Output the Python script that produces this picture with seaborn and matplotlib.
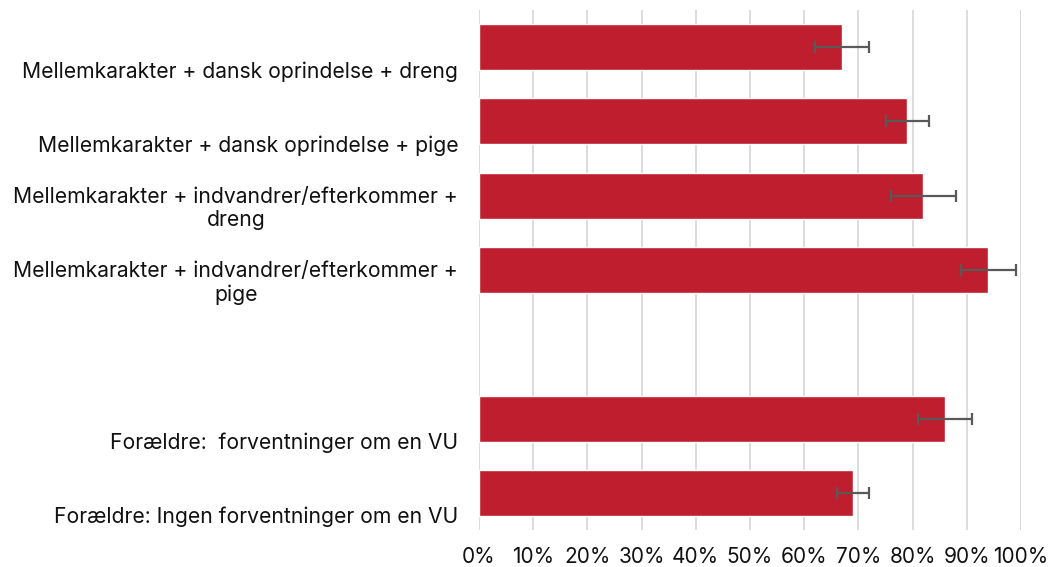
import matplotlib
matplotlib.use('Agg')
import matplotlib.pyplot as plt
import matplotlib.transforms as mtransforms
from matplotlib.ticker import PercentFormatter
import seaborn as sns
import pandas as pd

# data
labels = ['Mellemkarakter + dansk oprindelse + dreng',
          'Mellemkarakter + dansk oprindelse + pige',
          'Mellemkarakter + indvandrer/efterkommer +\ndreng',
          'Mellemkarakter + indvandrer/efterkommer +\npige',
          'Forældre:  forventninger om en VU',
          'Forældre: Ingen forventninger om en VU']
values = [0.67, 0.79, 0.82, 0.94, 0.86, 0.69]
errors = [0.05, 0.04, 0.06, 0.05, 0.05, 0.03]
# empty slot between the two groups
order = labels[:4] + [' '] + labels[4:]

df = pd.DataFrame({'label': labels, 'value': values, 'err': errors})

sns.set_theme(style='white')
plt.rcParams['font.family'] = ['Inter', 'DejaVu Sans']

fig = plt.figure(figsize=(10.5, 5.67), dpi=100)
ax = fig.add_axes([479 / 1050, 1 - 530 / 567, 542 / 1050, 520 / 567])

sns.barplot(data=df, x='value', y='label', order=order, color='#BE1E2D',
            saturation=1, width=0.62, ax=ax, zorder=2)

pos = [order.index(l) for l in df['label']]
ax.errorbar(df['value'], pos, xerr=df['err'], fmt='none', ecolor='#595959',
            elinewidth=1.6, capsize=4, capthick=1.6, zorder=3)

ax.set_xlim(0, 1)
ax.set_ylim(6.5, -0.5)
ax.set_xticks([i / 10 for i in range(11)])
ax.xaxis.set_major_formatter(PercentFormatter(1.0, decimals=0))
ax.grid(axis='x', color='#D9D9D9', linewidth=1.3, zorder=0)
ax.grid(axis='y', visible=False)
ax.set_axisbelow(True)
for s in ax.spines.values():
    s.set_visible(False)
ax.set_xlabel('')
ax.set_ylabel('')

ax.set_yticks(range(len(order)))
ax.set_yticklabels([l if ('\n' in l or l.strip() == '') else '\n' + l for l in order],
                   fontsize=15.2, color='#111111', multialignment='center')
ax.tick_params(axis='y', length=0, pad=15)
ax.tick_params(axis='x', length=0, pad=12, labelsize=15, labelcolor='#111111')

shift = mtransforms.ScaledTranslation(0, -9 / 100, fig.dpi_scale_trans)
for t in ax.get_yticklabels():
    t.set_transform(t.get_transform() + shift)

fig.savefig('out.png', dpi=100)
